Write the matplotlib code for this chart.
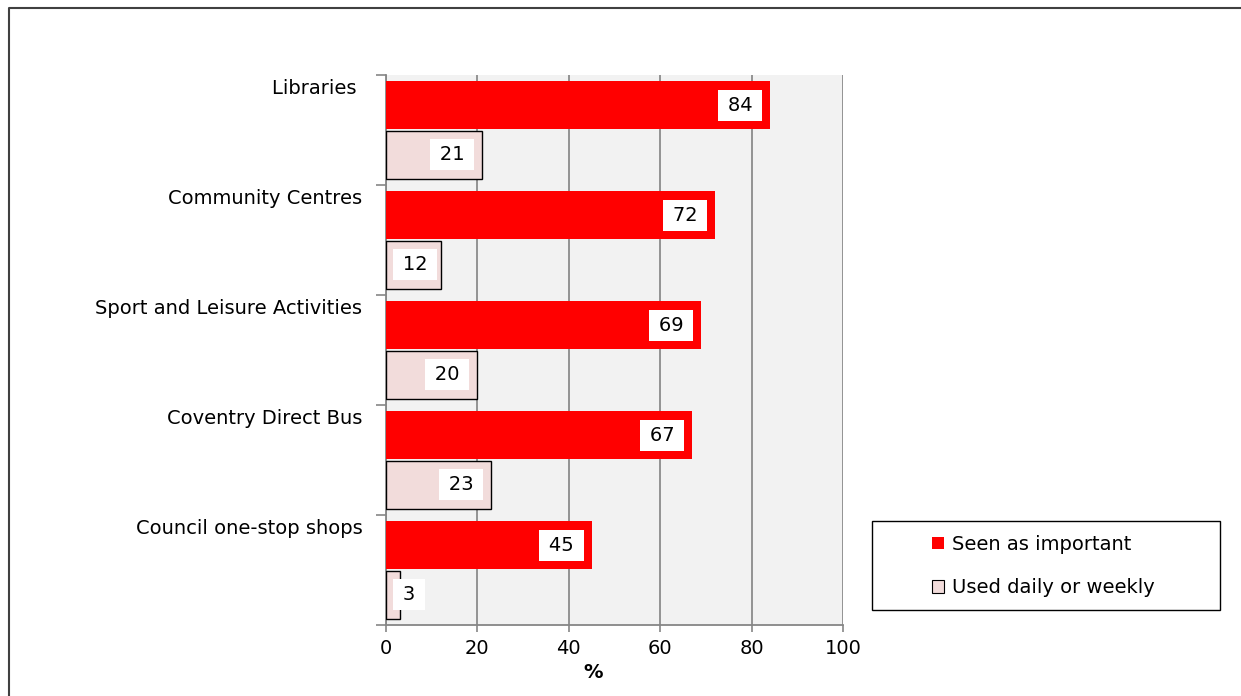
import matplotlib

matplotlib.use("Agg")

import matplotlib.pyplot as plt
import numpy as np
from matplotlib.lines import Line2D
from matplotlib.patches import Patch, Rectangle

categories = [
    "Libraries ",
    "Community Centres",
    "Sport and Leisure Activities",
    "Coventry Direct Bus",
    "Council one-stop shops",
]
important = [84, 72, 69, 67, 45]
used = [21, 12, 20, 23, 3]
series_names = ["Seen as important", "Used daily or weekly"]
x_ticks = [0, 20, 40, 60, 80, 100]

RED = "#ff0000"
PINK = "#f2dcdb"
AXIS_GREY = "#868686"
FS = 14
PT = 0.72  # points per pixel at dpi 100

plt.rcParams["font.family"] = ["DejaVu Sans"]
plt.rcParams["font.size"] = FS

W, H = 1241, 696
fig = plt.figure(figsize=(W / 100, H / 100), dpi=100)
ax = fig.add_axes([386 / W, 71 / H, 457 / W, 550 / H])
ax.set_facecolor("#f2f2f2")

y = np.arange(len(categories))
h = 0.44
ax.barh(y - 0.225, important, height=h, color=RED, edgecolor="none", zorder=3)
ax.barh(y + 0.225, used, height=h, color=PINK, edgecolor="black", linewidth=1.0, zorder=3)

ax.set_xlim(0, 100)
ax.set_ylim(len(categories) - 0.5, -0.5)

# vertical gridlines
ax.set_xticks(x_ticks)
ax.xaxis.grid(True, color="#8c8c8c", linewidth=1.3, zorder=1)
ax.tick_params(axis="x", length=5, width=1.2, color=AXIS_GREY, pad=5, labelsize=FS)

# ticks on category boundaries, labels near the top of each category
ax.set_yticks(np.arange(len(categories) + 1) - 0.5)
ax.set_yticklabels([])
ax.tick_params(axis="y", which="major", length=7, width=1.2, color=AXIS_GREY)
ax.set_yticks(y - 0.4, minor=True)
ax.set_yticklabels(categories, minor=True)
ax.tick_params(axis="y", which="minor", length=0, pad=17, labelsize=FS)

for side in ["top", "right"]:
    ax.spines[side].set_visible(False)
for side in ["left", "bottom"]:
    ax.spines[side].set_color(AXIS_GREY)
    ax.spines[side].set_linewidth(1.3)

ax.set_xlabel("%", fontweight="bold", fontsize=FS)
ax.xaxis.set_label_coords(0.453, -0.07)

# white value boxes at the inside end of each bar
px_per_unit = 457 / 100
box_w = 45
pad_px = 0.3 * FS / PT
for offset, vals in [(-0.225, important), (0.225, used)]:
    for i, v in enumerate(vals):
        bar_px = v * px_per_unit
        if bar_px - 8 - box_w >= 7:
            xy, dx, ha = (v, i + offset), -(8 + pad_px) * PT, "right"
        else:
            xy, dx, ha = (0, i + offset), (7 + pad_px) * PT, "left"
        ax.annotate(
            f"\u2009{v}\u2009",
            xy=xy,
            xytext=(dx, 0),
            textcoords="offset points",
            ha=ha,
            va="center",
            fontsize=FS,
            zorder=5,
            bbox={"boxstyle": "square,pad=0.3", "facecolor": "white", "edgecolor": "none"},
        )

# legend in its own framed box to the right of the plot
fig.add_artist(Rectangle((872 / W, 1 - 610 / H), 348 / W, 89 / H, transform=fig.transFigure,
                         facecolor="white", edgecolor="black", linewidth=1.0))
handles = [
    Patch(facecolor=RED, edgecolor="none"),
    Patch(facecolor=PINK, edgecolor="black", linewidth=0.8),
]
leg = fig.legend(
    handles,
    series_names,
    loc="center left",
    bbox_to_anchor=(932 / W, 1 - 566 / H),
    frameon=False,
    fontsize=FS,
    handlelength=0.62,
    handleheight=0.62,
    handletextpad=0.42,
    labelspacing=1.25,
    borderpad=0,
    borderaxespad=0,
)

# outer border on left and top
fig.add_artist(Line2D([9 / W, 9 / W, 1.0], [0, 1 - 8 / H, 1 - 8 / H],
                      transform=fig.transFigure, color="#404040", linewidth=1.5))

fig.savefig("out.png", dpi=100)
